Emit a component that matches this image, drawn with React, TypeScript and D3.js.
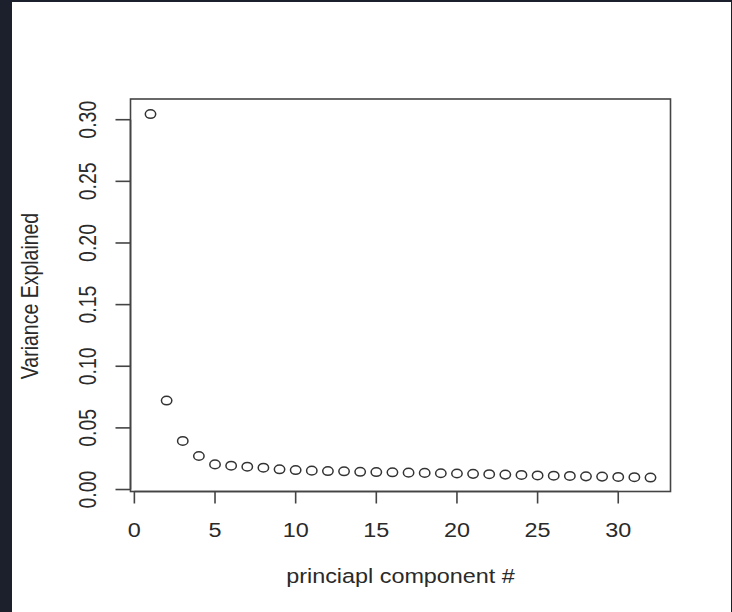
import React from "react";
import * as d3 from "d3";

const components: number[] = Array.from({ length: 32 }, (_, i) => i + 1);
const varianceExplained: number[] = [
  0.3046, 0.0722, 0.0394, 0.0272, 0.0204, 0.0193, 0.0185, 0.0177, 0.0164, 0.0158,
  0.0153, 0.0150, 0.0148, 0.0144, 0.0142, 0.0140, 0.0137, 0.0135, 0.0132, 0.0130,
  0.0127, 0.0124, 0.0121, 0.0118, 0.0114, 0.0112, 0.0110, 0.0107, 0.0105, 0.0102,
  0.0100, 0.0097,
];
const xTicks: number[] = [0, 5, 10, 15, 20, 25, 30];
const yTicks: number[] = [0.0, 0.05, 0.1, 0.15, 0.2, 0.25, 0.3];
const xTitle = "princiapl component #";
const yTitle = "Variance Explained";

const W = 732;
const H = 612;
const box = { left: 130.5, right: 670.5, top: 99, bottom: 491.5 };
const SX = 1.2;
const FS = 19.5;
const FONT = "'Liberation Sans', Arial, Helvetica, sans-serif";
const INK = "#2a2a2a";

export default function App() {
  const x = d3.scaleLinear().domain([-0.24, 33.24]).range([box.left, box.right]);
  const y = d3.scaleLinear().domain([-0.0016, 0.3168]).range([box.bottom, box.top]);
  const fmtY = d3.format(".2f");

  return (
    <svg
      width={W}
      height={H}
      style={{ position: "fixed", left: 0, top: 0, background: "#fff" }}
    >
      <rect x={0} y={0} width={W} height={H} fill="#ffffff" />
      {/* dark frame */}
      <rect x={0} y={0} width={12} height={H} fill="#1b202c" />
      <rect x={0} y={0} width={W} height={2} fill="#1b202c" />
      <rect x={W - 1} y={0} width={1} height={H} fill="#1b202c" />

      {/* plot box */}
      <rect
        x={box.left}
        y={box.top}
        width={box.right - box.left}
        height={box.bottom - box.top}
        fill="none"
        stroke="#444"
        strokeWidth={1.6}
      />

      {/* x axis */}
      <line x1={x(xTicks[0])} x2={x(xTicks[xTicks.length - 1])} y1={box.bottom} y2={box.bottom} stroke="#444" strokeWidth={1.6} />
      {xTicks.map((t) => (
        <g key={"xt" + t}>
          <line x1={x(t)} x2={x(t)} y1={box.bottom} y2={box.bottom + 12} stroke="#444" strokeWidth={1.6} />
          <text
            transform={`translate(${x(t)},${536.5}) scale(${SX},1)`}
            textAnchor="middle"
            fontFamily={FONT}
            fontSize={FS}
            fill={INK}
          >
            {t}
          </text>
        </g>
      ))}

      {/* y axis */}
      <line x1={box.left} x2={box.left} y1={y(yTicks[0])} y2={y(yTicks[yTicks.length - 1])} stroke="#444" strokeWidth={1.6} />
      {yTicks.map((t) => (
        <g key={"yt" + t}>
          <line x1={box.left - 15} x2={box.left} y1={y(t)} y2={y(t)} stroke="#444" strokeWidth={1.6} />
          <text
            transform={`translate(${95.5},${y(t)}) scale(${SX},1) rotate(-90)`}
            textAnchor="middle"
            fontFamily={FONT}
            fontSize={FS}
            fill={INK}
          >
            {fmtY(t)}
          </text>
        </g>
      ))}

      {/* points */}
      {components.map((c, i) => (
        <ellipse
          key={"p" + c}
          cx={x(c)}
          cy={y(varianceExplained[i])}
          rx={5.2}
          ry={4.3}
          fill="none"
          stroke="#333"
          strokeWidth={1.5}
        />
      ))}

      {/* titles */}
      <text
        transform={`translate(${(box.left + box.right) / 2},${583}) scale(${SX},1)`}
        textAnchor="middle"
        fontFamily={FONT}
        fontSize={FS}
        fill={INK}
      >
        {xTitle}
      </text>
      <text
        transform={`translate(${37.5},${296}) scale(${SX},1) rotate(-90)`}
        textAnchor="middle"
        fontFamily={FONT}
        fontSize={FS}
        fill={INK}
      >
        {yTitle}
      </text>
    </svg>
  );
}
